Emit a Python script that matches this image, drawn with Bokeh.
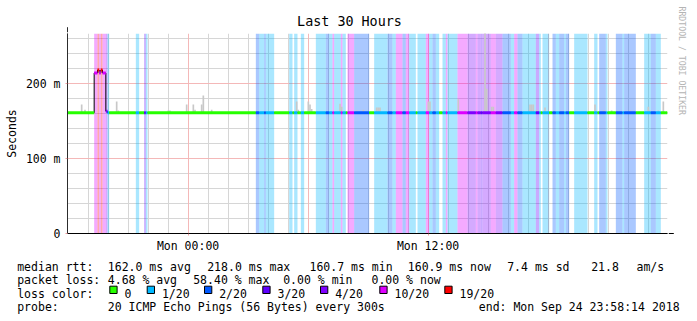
from datetime import datetime, timedelta

from bokeh.plotting import figure
from bokeh.layouts import column
from bokeh.core.properties import value
from bokeh.models import (Range1d, FixedTicker, DatetimeTickFormatter, Grid, Title,
                          Arrow, NormalHead, ColumnDataSource)
from bokeh.embed import file_html
from bokeh.resources import INLINE

# ---------------------------------------------------------------- data
TITLE = "Last 30 Hours"
CREDIT = "RRDTOOL / TOBI OETIKER"
END_TIME = datetime(2018, 9, 24, 23, 58, 14)
SPAN_HOURS = 30
STEP_SECONDS = 300
Y_MAX_MS = 266.67

X_TICK_TIMES = [datetime(2018, 9, 24, 0, 0), datetime(2018, 9, 24, 12, 0)]
Y_TICKS_MS = [0, 100, 200]
Y_TICK_LABELS = ["0", "100 m", "200 m"]

LOSS_LEVELS = [0, 1, 2, 3, 4, 10, 19]
LOSS_LABELS = ["0", "1/20", "2/20", "3/20", "4/20", "10/20", "19/20"]
LOSS_COLORS = ["#26ff00", "#00b8ff", "#0059ff", "#5e00ff", "#7e00ff", "#dd00ff", "#ff0000"]

# pings lost (of 20) in each 5-minute step; one row = 36 steps = 3 hours
LOSS = [
    0, 0, 0, 0, 0, 0, 0, 0, 0, 0, 0, 0, 0, 0, 0, 0, 10, 10, 19, 10, 19, 10, 10, 4, 1, 0, 0, 0, 0, 0, 0, 0, 0, 0, 0, 0,
    0, 0, 0, 0, 0, 1, 1, 0, 0, 0, 3, 1, 0, 0, 0, 0, 0, 0, 0, 0, 0, 0, 0, 0, 0, 0, 0, 0, 0, 0, 0, 0, 0, 0, 0, 0,
    0, 0, 0, 0, 0, 0, 0, 0, 0, 0, 0, 0, 0, 0, 0, 0, 0, 0, 0, 0, 0, 0, 0, 0, 0, 0, 0, 0, 0, 0, 0, 0, 0, 0, 0, 0,
    0, 0, 0, 0, 0, 2, 2, 1, 1, 1, 2, 1, 1, 1, 1, 1, 0, 0, 0, 0, 0, 0, 0, 0, 0, 1, 1, 0, 1, 1, 0, 0, 1, 1, 0, 0,
    0, 0, 0, 0, 0, 1, 1, 1, 1, 1, 1, 2, 2, 1, 1, 10, 1, 1, 1, 1, 10, 1, 1, 0, 10, 10, 10, 10, 2, 2, 2, 2, 2, 2, 2, 2,
    2, 0, 0, 0, 1, 1, 1, 1, 1, 1, 1, 1, 2, 2, 2, 1, 1, 10, 10, 10, 10, 2, 2, 10, 10, 1, 1, 1, 1, 0, 1, 1, 1, 1, 1, 10,
    10, 1, 1, 2, 2, 1, 1, 0, 0, 1, 1, 10, 1, 1, 1, 1, 1, 1, 10, 10, 10, 10, 10, 10, 4, 4, 4, 4, 4, 10, 4, 4, 3, 4, 4, 4,
    4, 4, 10, 10, 10, 4, 4, 4, 4, 2, 2, 2, 2, 2, 1, 1, 10, 10, 2, 2, 2, 1, 1, 1, 1, 1, 1, 1, 1, 3, 3, 1, 0, 1, 1, 1,
    1, 0, 0, 2, 2, 1, 1, 2, 2, 2, 1, 2, 2, 0, 0, 0, 1, 1, 1, 1, 1, 1, 1, 1, 0, 0, 0, 0, 1, 1, 0, 2, 2, 2, 2, 1,
    0, 0, 0, 0, 0, 2, 2, 2, 2, 1, 2, 2, 2, 2, 2, 2, 2, 0, 0, 0, 0, 0, 1, 1, 1, 1, 2, 2, 2, 1, 1, 1, 0, 0, 0, 0,
]

# median round-trip time (ms) in each step
MEDIAN_MS = [
    161.0, 161.0, 161.0, 161.0, 161.0, 161.0, 161.0, 161.0, 161.0, 161.0, 161.0, 161.0, 161.0, 161.0, 161.0, 161.0, 214.0, 214.0, 218.0, 214.0, 218.0, 214.0, 214.0, 163.0, 161.0, 161.0, 161.0, 161.0, 161.0, 161.0, 161.0, 161.0, 161.0, 161.0, 161.0, 161.0,
    161.0, 161.0, 161.0, 161.0, 161.0, 161.0, 161.0, 161.0, 161.0, 161.0, 161.0, 161.0, 161.0, 161.0, 161.0, 161.0, 161.0, 161.0, 161.0, 161.0, 161.0, 161.0, 161.0, 161.0, 161.0, 161.0, 161.0, 161.0, 161.0, 161.0, 161.0, 161.0, 161.0, 161.0, 161.0, 161.0,
    161.0, 161.0, 161.0, 161.0, 161.0, 161.0, 161.0, 161.0, 161.0, 161.0, 161.0, 161.0, 161.0, 161.0, 161.0, 161.0, 161.0, 161.0, 161.0, 161.0, 161.0, 161.0, 161.0, 161.0, 161.0, 161.0, 161.0, 161.0, 161.0, 161.0, 161.0, 161.0, 161.0, 161.0, 161.0, 161.0,
    161.0, 161.0, 161.0, 161.0, 161.0, 161.0, 161.0, 161.0, 161.0, 161.0, 161.0, 161.0, 161.0, 161.0, 161.0, 161.0, 161.0, 161.0, 161.0, 161.0, 161.0, 161.0, 161.0, 161.0, 161.0, 161.0, 161.0, 161.0, 161.0, 161.0, 161.0, 161.0, 161.0, 161.0, 161.0, 161.0,
    161.0, 161.0, 161.0, 161.0, 161.0, 161.0, 161.0, 161.0, 161.0, 161.0, 161.0, 161.0, 161.0, 161.0, 161.0, 161.0, 161.0, 161.0, 161.0, 161.0, 161.0, 161.0, 161.0, 161.0, 161.0, 161.0, 161.0, 161.0, 161.0, 161.0, 161.0, 161.0, 161.0, 161.0, 161.0, 161.0,
    161.0, 161.0, 161.0, 161.0, 161.0, 161.0, 161.0, 161.0, 161.0, 161.0, 161.0, 161.0, 161.0, 161.0, 161.0, 161.0, 161.0, 161.0, 161.0, 161.0, 161.0, 161.0, 161.0, 161.0, 161.0, 161.0, 161.0, 161.0, 161.0, 161.0, 161.0, 161.0, 161.0, 161.0, 161.0, 161.0,
    161.0, 161.0, 161.0, 161.0, 161.0, 161.0, 161.0, 161.0, 161.0, 161.0, 161.0, 161.0, 161.0, 161.0, 161.0, 161.0, 161.0, 161.0, 161.0, 161.0, 161.0, 161.0, 161.0, 161.0, 161.0, 161.0, 161.0, 161.0, 161.0, 161.0, 161.0, 161.0, 161.0, 161.0, 161.0, 161.0,
    161.0, 161.0, 161.0, 161.0, 161.0, 161.0, 161.0, 161.0, 161.0, 161.0, 161.0, 161.0, 161.0, 161.0, 161.0, 161.0, 161.0, 161.0, 161.0, 161.0, 161.0, 161.0, 161.0, 161.0, 161.0, 161.0, 161.0, 161.0, 161.0, 161.0, 161.0, 161.0, 161.0, 161.0, 161.0, 161.0,
    161.0, 161.0, 161.0, 161.0, 161.0, 161.0, 161.0, 161.0, 161.0, 161.0, 161.0, 161.0, 161.0, 161.0, 161.0, 161.0, 161.0, 161.0, 161.0, 161.0, 161.0, 161.0, 161.0, 161.0, 161.0, 161.0, 161.0, 161.0, 161.0, 161.0, 161.0, 161.0, 161.0, 161.0, 161.0, 161.0,
    161.0, 161.0, 161.0, 161.0, 161.0, 161.0, 161.0, 161.0, 161.0, 161.0, 161.0, 161.0, 161.0, 161.0, 161.0, 161.0, 161.0, 161.0, 161.0, 161.0, 161.0, 161.0, 161.0, 161.0, 161.0, 161.0, 161.0, 161.0, 161.0, 161.0, 161.0, 161.0, 161.0, 161.0, 161.0, 160.9,
]

# smoke (spread of the pings): step index and highest ping (ms)
SMOKE_STEPS = [8, 10, 29, 30, 60, 61, 71, 75, 76, 80, 81, 86,
               137, 138, 144, 145, 146, 163, 164, 173, 177,
               185, 186, 187, 216, 217, 234, 238, 250, 251, 254, 255,
               277, 278, 279, 281, 286, 316, 321, 322, 326, 337, 348, 349, 354, 357]
SMOKE_TOP_MS = [172, 165, 176, 164, 164, 164, 172, 172, 165, 172, 184, 165,
                176, 165, 176, 172, 166, 173, 169, 164, 165,
                168, 168, 168, 176, 176, 179, 164, 275, 193, 169, 169,
                172, 172, 172, 165, 168, 172, 164, 164, 164, 164, 169, 164, 164, 176]

LEGEND_ROWS = [
    [("median rtt:", 16.7), ("162.0 ms avg", 107.3), ("218.0 ms max", 206.7), ("160.7 ms min", 309.0),
     ("160.9 ms now", 407.3), ("7.4 ms sd", 506.7), ("21.8", 590.7), ("am/s", 636.0)],
    [("packet loss:", 16.7), ("4.68 % avg", 107.3), ("58.40 % max", 192.7), ("0.00 % min", 282.7),
     ("0.00 % now", 371.0)],
    [("loss color:", 16.7)],
    [("probe:", 16.7), ("20 ICMP Echo Pings (56 Bytes) every 300s", 107.3),
     ("end: Mon Sep 24 23:58:14 2018", 478.3)],
]

FONT = "DejaVu Sans Mono"

# ---------------------------------------------------------------- helpers
EPOCH = datetime(1970, 1, 1)


def ms(dt):
    return (dt - EPOCH).total_seconds() * 1000.0


def level_index(lost):
    idx = 0
    for i, lv in enumerate(LOSS_LEVELS):
        if lost >= lv:
            idx = i
    return idx


start_time = END_TIME - timedelta(hours=SPAN_HOURS)
X0, X1 = ms(start_time), ms(END_TIME)
STEP_MS = STEP_SECONDS * 1000.0
n = len(LOSS)
lefts = [X0 + i * STEP_MS for i in range(n)]
rights = [X0 + (i + 1) * STEP_MS for i in range(n)]
y_top = Y_MAX_MS / 1000.0

FRAME_L, FRAME_T, FRAME_W, FRAME_H = 67, 33, 600, 200
MAIN_BOTTOM = 22
MAIN_H = FRAME_T + FRAME_H + MAIN_BOTTOM      # 255
TOTAL_W, TOTAL_H = 697, 321
LEG_H = TOTAL_H - MAIN_H                      # 66

p = figure(x_axis_type="datetime",
           x_range=Range1d(X0, X1), y_range=Range1d(0, y_top),
           frame_width=FRAME_W, frame_height=FRAME_H,
           min_border_left=FRAME_L, min_border_right=TOTAL_W - FRAME_L - FRAME_W,
           min_border_top=FRAME_T, min_border_bottom=MAIN_BOTTOM,
           output_backend="svg", toolbar_location=None,
           background_fill_color="white", border_fill_color="white")
p.outline_line_color = None
p.grid.visible = False
p.frame_align = False

# title
title_w = len(TITLE) * 0.602 * 13.4
p.title.text = TITLE
p.title.align = "left"
p.title.offset = 349 - title_w / 2 - FRAME_L
p.title.text_font = FONT
p.title.text_font_size = "13.4px"
p.title.text_font_style = "normal"
p.title.text_color = "black"
p.title.standoff = 10

# credit on the right, read top to bottom
p.add_layout(Title(text=CREDIT, align="left", offset=-27, standoff=19,
                   text_font=FONT, text_font_size="8.2px", text_font_style="normal",
                   text_color="#b4b4b4"), "right")

# ---------------------------------------------------------------- grid
hours = []
t = start_time.replace(minute=0, second=0) + timedelta(hours=1)
while t <= END_TIME:
    hours.append(t)
    t += timedelta(hours=1)
minor_x = [ms(h) for h in hours if h.hour % 6 != 0]
major_x = [ms(h) for h in hours if h.hour % 6 == 0 and ms(h) - X0 > 3600e3] + [X1]
minor_y = [v / 1000.0 for v in range(20, 270, 20) if v % 100 != 0]
major_y = [0.1, 0.2]

p.add_layout(Grid(dimension=0, ticker=FixedTicker(ticks=minor_x),
                  grid_line_color="#d6d6d6", grid_line_alpha=1.0))
p.add_layout(Grid(dimension=1, ticker=FixedTicker(ticks=minor_y),
                  grid_line_color="#d6d6d6", grid_line_alpha=1.0))
p.add_layout(Grid(dimension=0, ticker=FixedTicker(ticks=major_x),
                  grid_line_color="#f4b8b8", grid_line_alpha=1.0))
p.add_layout(Grid(dimension=1, ticker=FixedTicker(ticks=major_y),
                  grid_line_color="#f4b8b8", grid_line_alpha=1.0))

# ---------------------------------------------------------------- loss background bands
band = dict(left=[], right=[], color=[])
i = 0
while i < n:
    j = i
    while j + 1 < n and LOSS[j + 1] == LOSS[i]:
        j += 1
    if LOSS[i] > 0:
        band["left"].append(lefts[i])
        band["right"].append(rights[j])
        band["color"].append(LOSS_COLORS[level_index(LOSS[i])])
    i = j + 1
p.quad(left="left", right="right", bottom=0, top=y_top, fill_color="color",
       fill_alpha=0.333, line_color=None, source=ColumnDataSource(band))

# ---------------------------------------------------------------- smoke
smoke = dict(left=[lefts[s] for s in SMOKE_STEPS],
             right=[rights[s] for s in SMOKE_STEPS],
             bottom=[MEDIAN_MS[s] / 1000.0 for s in SMOKE_STEPS],
             top=[v / 1000.0 for v in SMOKE_TOP_MS])
p.quad(left="left", right="right", bottom="bottom", top="top",
       fill_color="#c8c8c8", line_color=None, source=ColumnDataSource(smoke))

# ---------------------------------------------------------------- median
step_x, step_y = [], []
for k in range(n):
    step_x += [lefts[k], rights[k]]
    step_y += [MEDIAN_MS[k] / 1000.0] * 2
p.line(step_x, step_y, line_color="black", line_width=1)

seg = dict(x0=[], x1=[], y=[], color=[])
i = 0
while i < n:
    j = i
    li = level_index(LOSS[i])
    while j + 1 < n and level_index(LOSS[j + 1]) == li and MEDIAN_MS[j + 1] == MEDIAN_MS[i]:
        j += 1
    seg["x0"].append(lefts[i])
    seg["x1"].append(rights[j])
    seg["y"].append(MEDIAN_MS[i] / 1000.0)
    seg["color"].append(LOSS_COLORS[li])
    i = j + 1
p.segment(x0="x0", y0="y", x1="x1", y1="y", line_color="color", line_width=3,
          line_cap="butt", source=ColumnDataSource(seg))

# ---------------------------------------------------------------- axes
p.xaxis.ticker = FixedTicker(ticks=[ms(t) for t in X_TICK_TIMES])
fmt = "%a %H:%M"
p.xaxis.formatter = DatetimeTickFormatter(hours=fmt, hourmin=fmt, days=fmt, minutes=fmt,
                                          minsec=fmt, seconds=fmt, months=fmt, years=fmt)
p.yaxis.ticker = FixedTicker(ticks=[v / 1000.0 for v in Y_TICKS_MS])
p.yaxis.major_label_overrides = {v / 1000.0: lab for v, lab in zip(Y_TICKS_MS, Y_TICK_LABELS)}

for ax in (p.xaxis[0], p.yaxis[0]):
    ax.major_label_text_font = FONT
    ax.major_label_text_font_size = "11.5px"
    ax.major_label_text_color = "black"
    ax.major_tick_in = 0
    ax.major_tick_out = 2
    ax.minor_tick_in = 0
    ax.minor_tick_out = 0
    ax.major_tick_line_color = "#f0a0a0"
p.xaxis.axis_line_color = "black"
p.yaxis.axis_line_color = "#2c2c2c"
p.xaxis.major_label_standoff = 3
p.yaxis.major_label_standoff = 5
p.yaxis.axis_label = "Seconds"
p.yaxis.axis_label_text_font = FONT
p.yaxis.axis_label_text_font_size = "11.5px"
p.yaxis.axis_label_text_font_style = "normal"
p.yaxis.axis_label_text_color = "black"
p.yaxis.axis_label_standoff = 4

ARROW_COLOR = "#7f1f1f"
y_per_px = y_top / FRAME_H
x_per_px = (X1 - X0) / FRAME_W
p.add_layout(Arrow(end=NormalHead(size=5, fill_color=ARROW_COLOR, line_color=ARROW_COLOR),
                   x_start=X0, y_start=0, x_end=X0, y_end=y_top + 6.3 * y_per_px,
                   line_color="#2c2c2c", line_width=1))
p.add_layout(Arrow(end=NormalHead(size=5, fill_color=ARROW_COLOR, line_color=ARROW_COLOR),
                   x_start=X0, y_start=0, x_end=X1 + 6.3 * x_per_px, y_end=0,
                   line_color="black", line_width=1))

# ---------------------------------------------------------------- legend panel (pixel coordinates, y down)
leg = figure(width=TOTAL_W, height=LEG_H, x_range=Range1d(0, TOTAL_W), y_range=Range1d(LEG_H, 0),
             x_axis_location=None, y_axis_location=None,
             min_border_left=0, min_border_right=0, min_border_top=0, min_border_bottom=0,
             output_backend="svg", toolbar_location=None,
             background_fill_color="white", border_fill_color="white")
leg.outline_line_color = None
leg.grid.visible = False
leg.frame_align = False

row_base = [266.0 - MAIN_H, 279.5 - MAIN_H, 293.0 - MAIN_H, 306.5 - MAIN_H]
tx, ty, tt = [], [], []
for row, base in zip(LEGEND_ROWS, row_base):
    for text, cx in row:
        tx.append(cx)
        ty.append(base)
        tt.append(text)
swatch_x = [109.3, 146.7, 204.0, 262.3, 320.0, 379.3, 444.3]
for lab, sx in zip(LOSS_LABELS, swatch_x):
    tx.append(sx + 14.7)
    ty.append(row_base[2])
    tt.append(lab)
leg.text(x=tx, y=ty, text=tt, text_font=value(FONT), text_font_size="11.5px",
         text_color="black", text_align="left", text_baseline="alphabetic")

sw_top = 285.7 - MAIN_H
leg.quad(left=swatch_x, right=[sx + 7.3 for sx in swatch_x],
         top=[sw_top] * len(swatch_x), bottom=[sw_top + 7.3] * len(swatch_x),
         fill_color=LOSS_COLORS, line_color="black", line_width=1)

layout = column(p, leg, spacing=0)
open("out.html", "w").write(file_html(layout, INLINE))
